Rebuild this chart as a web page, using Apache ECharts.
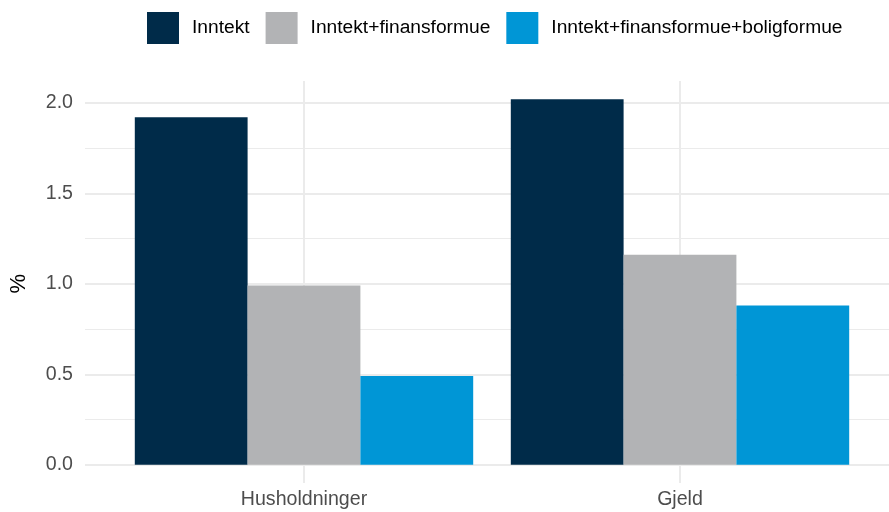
<!DOCTYPE html>
<html>
<head>
<meta charset="utf-8">
<script src="https://cdn.jsdelivr.net/npm/echarts@6/dist/echarts.min.js"></script>
<style>
html,body{margin:0;padding:0;background:#fff;}
#chart{width:889px;height:512px;}
</style>
</head>
<body>
<div id="chart"></div>
<script>
const categories = ['Husholdninger', 'Gjeld'];
const seriesNames = ['Inntekt', 'Inntekt+finansformue', 'Inntekt+finansformue+boligformue'];
const inntekt = [1.92, 2.02];
const inntektFinans = [0.99, 1.16];
const inntektFinansBolig = [0.49, 0.88];
const yTicks = [0.0, 0.5, 1.0, 1.5, 2.0];
const yTitle = '%';
const colors = ['#002B49', '#B2B3B5', '#0096D6'];

const allVals = inntekt.concat(inntektFinans, inntektFinansBolig);
const dMax = Math.max.apply(null, allVals);
const yMin = -0.05 * dMax, yMax = 1.05 * dMax;

// panel geometry
const H = 512;
const panelTop = 81, panelBottom = 29;
const panelH = H - panelTop - panelBottom;
const pxPerUnit = panelH / (yMax - yMin);
const tickMin = yTicks[0], tickMax = yTicks[yTicks.length - 1];
const gridBTop = panelTop + (yMax - tickMax) * pxPerUnit;
const gridBBottom = panelBottom + (tickMin - yMin) * pxPerUnit;

const font = 'Liberation Sans, Arial, Helvetica, sans-serif';
const fs = 19.6;
const chart = echarts.init(document.getElementById('chart'));
const data = [inntekt, inntektFinans, inntektFinansBolig];

const series = seriesNames.map((n, i) => ({
  name: n, type: 'bar', xAxisIndex: 0, yAxisIndex: 0,
  data: data[i], barGap: '0%', barCategoryGap: '10%',
  itemStyle: { color: colors[i] }, z: 3, silent: true
}));
series.push({
  type: 'line', xAxisIndex: 0, yAxisIndex: 0, data: [],
  silent: true,
  markLine: {
    silent: true, symbol: ['none', 'none'], z: 1,
    label: { show: false },
    lineStyle: { color: '#EBEBEB', width: 2, type: 'solid' },
    data: categories.map(c => ({ xAxis: c }))
  }
});

chart.setOption({
  animation: false,
  backgroundColor: '#fff',
  textStyle: { fontFamily: font },
  legend: {
    data: seriesNames, top: 7, left: 142,
    itemWidth: 32, itemHeight: 32, itemGap: 16,
    icon: 'rect',
    textStyle: { fontSize: 19.2, color: '#000', fontFamily: font, padding: [0, 0, 0, 8] }
  },
  grid: [
    { left: 116, right: 21, top: panelTop, bottom: panelBottom, containLabel: false },
    { left: 80, right: 0, top: gridBTop, bottom: gridBBottom, containLabel: false }
  ],
  xAxis: [
    { type: 'category', gridIndex: 0, data: categories,
      axisLine: { show: false }, axisTick: { show: false }, splitLine: { show: false },
      axisLabel: { fontSize: fs, color: '#4D4D4D', margin: 7, fontFamily: font } },
    { type: 'value', gridIndex: 1, min: 0, max: 1, show: false }
  ],
  yAxis: [
    { type: 'value', gridIndex: 0, min: yMin, max: yMax, show: false },
    { type: 'value', gridIndex: 1, min: tickMin, max: tickMax, interval: 0.5,
      name: '{t|' + yTitle + '}', nameLocation: 'middle', nameGap: 55, nameRotate: 90,
      nameTextStyle: { color: '#000', fontFamily: font,
        rich: { t: { fontSize: 22, color: '#000', fontFamily: font } } },
      axisLine: { show: false }, axisTick: { show: false },
      axisLabel: { fontSize: fs, color: '#4D4D4D', margin: 12, fontFamily: font,
        formatter: v => v.toFixed(1) },
      splitLine: { show: true, lineStyle: { color: '#EBEBEB', width: 2 } },
      minorTick: { show: false, splitNumber: 2 },
      minorSplitLine: { show: true, lineStyle: { color: '#EBEBEB', width: 1 } } }
  ],
  series: series
});
</script>
</body>
</html>
